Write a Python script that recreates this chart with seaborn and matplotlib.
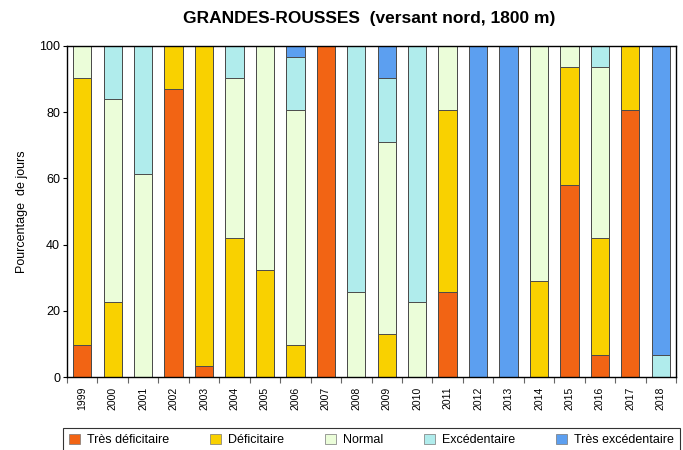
import numpy as np
import pandas as pd
import matplotlib
matplotlib.use("Agg")
import matplotlib.pyplot as plt
import seaborn as sns
from matplotlib.patches import Patch
from matplotlib.ticker import FixedLocator

years = [str(y) for y in range(1999, 2019)]

# percentage of days in each class (per year)
tres_deficitaire = [9.7, 0, 0, 87.1, 3.2, 0, 0, 0, 100, 0, 0, 0, 25.8, 0, 0, 0, 58.1, 6.5, 80.6, 0]
deficitaire = [80.6, 22.6, 0, 12.9, 96.8, 41.9, 32.3, 9.7, 0, 0, 12.9, 0, 54.8, 0, 0, 29.0, 35.5, 35.5, 19.4, 0]
normal = [9.7, 61.3, 61.3, 0, 0, 48.4, 67.7, 71.0, 0, 25.8, 58.1, 22.6, 19.4, 0, 0, 71.0, 6.5, 51.6, 0, 0]
excedentaire = [0, 16.1, 38.7, 0, 0, 9.7, 0, 16.1, 0, 74.2, 19.4, 77.4, 0, 0, 0, 0, 0, 6.5, 0, 6.5]
tres_excedentaire = [0, 0, 0, 0, 0, 0, 0, 3.2, 0, 0, 9.7, 0, 0, 100, 100, 0, 0, 0, 0, 93.5]

labels = ["Très déficitaire", "Déficitaire", "Normal", "Excédentaire", "Très excédentaire"]
colors = ["#F26414", "#F9D100", "#EBFDD9", "#B0ECEC", "#5C9FF0"]

df = pd.DataFrame({
    "annee": years,
    labels[0]: tres_deficitaire,
    labels[1]: deficitaire,
    labels[2]: normal,
    labels[3]: excedentaire,
    labels[4]: tres_excedentaire,
})

plt.rcParams["font.family"] = ["Liberation Sans", "DejaVu Sans"]

fig = plt.figure(figsize=(6.83, 4.5), dpi=100)
ax = fig.add_axes([67 / 683, 1 - 377 / 450, 609 / 683, 331 / 450])

# stacked bars: draw cumulative totals from the top class down
cum = df[labels].cumsum(axis=1)
for lab, col in reversed(list(zip(labels, colors))):
    sns.barplot(x=df["annee"], y=cum[lab], color=col, width=0.6,
                edgecolor="#4a4a4a", linewidth=0.7, ax=ax, saturation=1)

ax.set_ylim(0, 100)
ax.set_xlim(-0.5, len(years) - 0.5)
ax.set_yticks([0, 20, 40, 60, 80, 100])
ax.tick_params(axis="y", labelsize=9, length=3, width=0.8, pad=2)
ax.tick_params(axis="x", which="major", length=0, labelsize=7.5, labelrotation=90, pad=7)
ax.xaxis.set_minor_locator(FixedLocator(np.arange(-0.5, len(years), 1)))
ax.tick_params(axis="x", which="minor", length=4, width=0.8, color="#666666")
ax.set_xlabel("")
ax.set_ylabel("Pourcentage  de jours", fontsize=9, labelpad=8)
for s in ax.spines.values():
    s.set_linewidth(1.0)
    s.set_color("black")

fig.suptitle("GRANDES-ROUSSES  (versant nord, 1800 m)", x=0.54, y=0.975,
             fontsize=12.5, fontweight="bold")

handles = [Patch(facecolor=c, edgecolor="#777777", linewidth=0.5) for c in colors]
leg = fig.legend(handles, labels, loc="upper left", ncol=5, mode="expand",
                 bbox_to_anchor=(63 / 683, 1 - 428 / 450, 617 / 683, 0),
                 fontsize=9, frameon=True, fancybox=False, handlelength=0.9,
                 handleheight=0.9, handletextpad=0.6, borderaxespad=0, borderpad=0.45)
leg.get_frame().set_edgecolor("black")
leg.get_frame().set_linewidth(0.8)

fig.savefig("out.png", dpi=100)
